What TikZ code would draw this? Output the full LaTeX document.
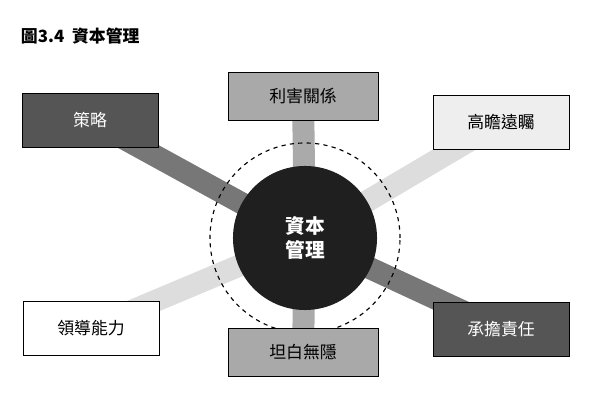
\documentclass[tikz,border=0pt]{standalone}
\usepackage{fontspec}
\setmainfont{Noto Sans CJK TC}
\usetikzlibrary{backgrounds}
\definecolor{darkbox}{HTML}{555555}
\definecolor{midbox}{HTML}{A9A9A9}
\definecolor{lightbox}{HTML}{EEEEEE}
\definecolor{darkbar}{HTML}{777777}
\definecolor{midbar}{HTML}{AAAAAA}
\definecolor{lightbar}{HTML}{DDDDDD}
\begin{document}
\begin{tikzpicture}[x=0.025cm,y=-0.025cm,
			box/.style={draw=black,line width=0.5pt,rectangle,minimum width=3.4cm,minimum height=1.35cm,font=\fontsize{12}{14}\selectfont},
			midbox/.style={box,minimum width=3.75cm,minimum height=1.2cm},
			bar/.style={line width=0.55cm}]
			\useasboundingbox (0,0) rectangle (600,406);
			\node [anchor=west,font=\bfseries\fontsize{12}{14}\selectfont] (title) at (16,36) {圖3.4\ \ 資本管理};
			\node (core) [circle,fill=black!88,minimum size=3.6cm,text=white,align=center,
				font=\bfseries\fontsize{14}{17}\selectfont] at (305,238) {資本\\管理};
			\node (ring) [circle,draw,dashed,line width=0.8pt,minimum size=4.75cm] at (305,238) {};
			\node (strategy) [box,fill=darkbox,text=white] at (90,120) {策略};
			\node (stake) [midbox,fill=midbox] at (303,96) {利害關係};
			\node (vision) [box,fill=lightbox] at (501,122) {高瞻遠矚};
			\node (lead) [box,fill=white] at (91,328) {領導能力};
			\node (open) [midbox,fill=midbox] at (303,352) {坦白無隱};
			\node (duty) [box,fill=darkbox,text=white] at (501,329) {承擔責任};
			\begin{scope}[on background layer]
				\draw [bar,darkbar] (core.center) -- (strategy.center);
				\draw [bar,midbar] (core.center) -- (stake.center);
				\draw [bar,lightbar] (core.center) -- (vision.center);
				\draw [bar,lightbar] (core.center) -- (lead.center);
				\draw [bar,midbar] (core.center) -- (open.center);
				\draw [bar,darkbar] (core.center) -- (duty.center);
			\end{scope}
		\end{tikzpicture}
\end{document}
